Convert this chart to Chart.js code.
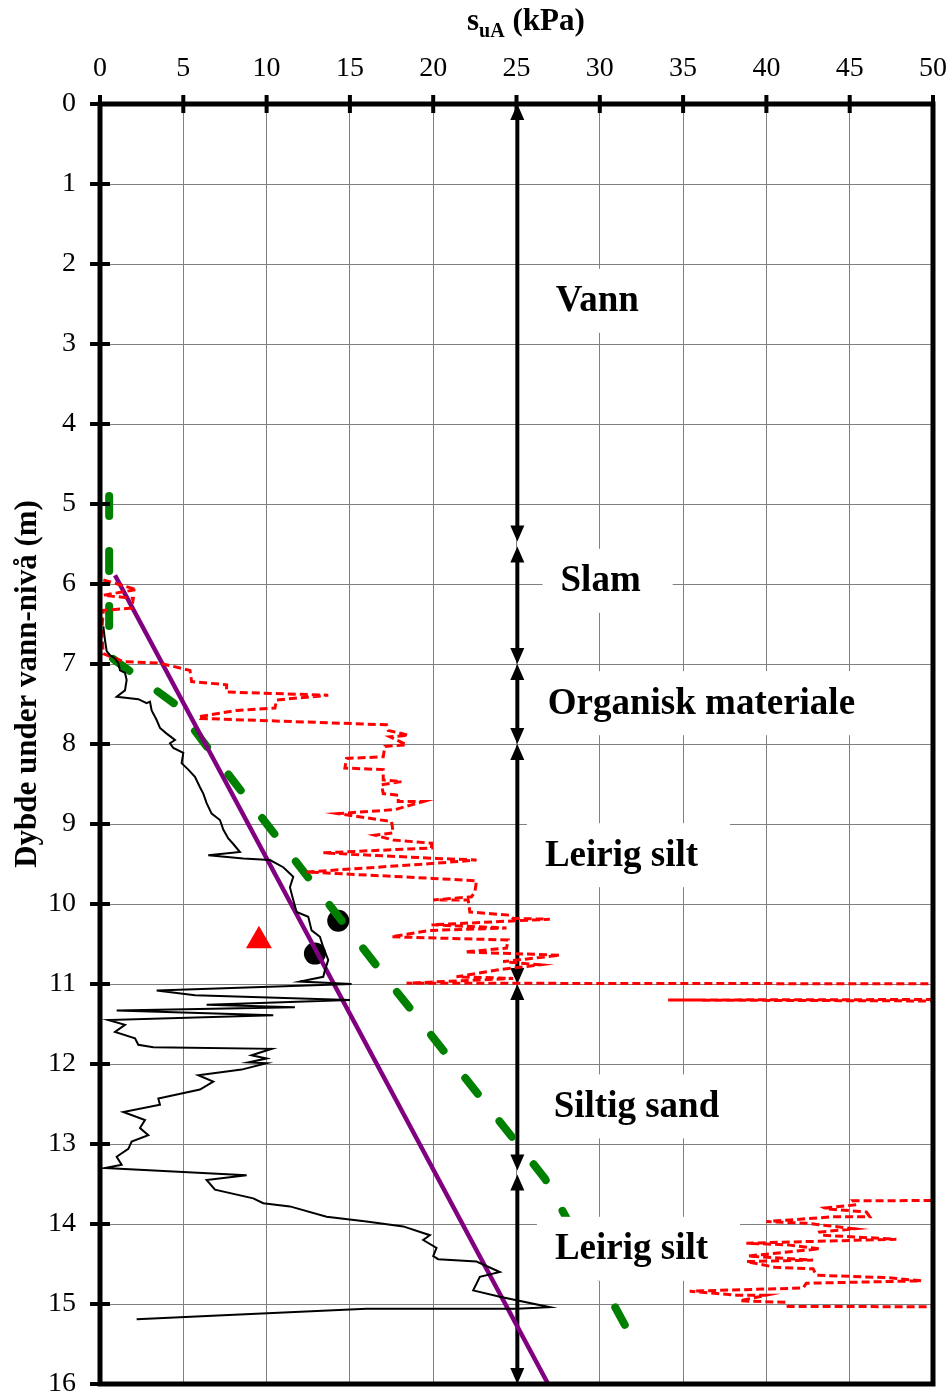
<!DOCTYPE html>
<html>
<head>
<meta charset="utf-8">
<script src="https://cdn.jsdelivr.net/npm/chart.js@4"></script>
<style>
  html, body { margin: 0; padding: 0; background: #fff; }
  canvas { display: block; }
</style>
</head>
<body>
<canvas id="chart" width="952" height="1396"></canvas>
<script>
// ---- Data (su in kPa, depth in m) ----
const blackSu = [0.2,0.3,0.4,0.6,0.9,1.1,1.2,1.5,1.6,1.5,1.0,2.3,2.8,3.0,3.1,3.4,3.6,4.0,4.5,4.2,4.4,5.0,4.9,5.3,5.7,6.0,6.2,6.4,6.7,7.2,7.4,7.7,8.0,8.4,6.5,8.6,10.2,11.0,11.6,11.4,11.6,11.8,12.5,12.7,13.2,13.4,13.7,13.5,13.4,12.0,15.1,3.4,5.7,15.0,6.4,11.7,1.0,10.4,0.5,1.5,0.9,2.1,2.3,3.2,10.3,9.1,10.0,8.9,10.0,8.5,5.9,6.8,6.0,3.5,3.6,1.4,2.7,2.4,2.9,1.9,1.7,1.0,1.3,0.3,8.8,6.4,6.9,9.2,9.8,11.4,13.6,16.0,18.2,19.8,19.4,20.2,20.0,20.3,22.6,24.0,22.8,22.4,24.0,27.0,25.0,16.0,7.4,2.2];
const blackDepth = [6.53,6.7,6.84,6.89,6.93,6.99,7.08,7.11,7.2,7.33,7.41,7.44,7.49,7.47,7.58,7.7,7.8,7.87,7.95,7.99,8.05,8.11,8.24,8.32,8.41,8.54,8.62,8.74,8.87,8.95,9.07,9.18,9.25,9.35,9.39,9.43,9.45,9.54,9.66,9.79,9.95,10.1,10.16,10.33,10.41,10.54,10.7,10.83,10.91,10.97,11.0,11.08,11.14,11.2,11.26,11.29,11.33,11.39,11.45,11.51,11.6,11.68,11.76,11.79,11.81,11.89,11.93,11.98,11.99,12.07,12.14,12.22,12.32,12.43,12.51,12.6,12.7,12.8,12.89,12.97,13.06,13.16,13.26,13.3,13.39,13.45,13.57,13.68,13.74,13.78,13.91,13.97,14.03,14.14,14.2,14.3,14.4,14.44,14.47,14.6,14.66,14.83,14.91,15.04,15.06,15.06,15.14,15.19];

const redSu = [0.2,2.2,0.2,2.0,1.9,0.2,0.1,0.2,1.4,3.6,5.4,5.5,7.6,7.6,13.7,10.6,10.5,8.2,5.9,6.0,17.2,17.3,18.5,17.4,18.4,17.1,17.0,14.8,14.7,17.0,17.0,18.1,16.9,17.0,17.9,17.9,19.4,17.7,14.3,17.5,17.6,16.5,17.6,19.9,19.9,13.4,16.2,20.2,22.6,20.2,12.4,20.0,22.6,22.5,22.3,20.0,22.1,22.2,24.6,24.8,27.0,19.9,24.4,19.8,17.5,24.5,24.4,21.9,27.6,24.2,26.4,24.0,21.4,24.8,18.4,60,60,34.1,60,
  null,
  60,45.2,45.4,43.5,43.6,46.0,46.2,44.0,40.0,42.4,45.3,43.2,43.3,47.8,38.8,41.2,43.2,38.9,42.8,38.8,40.5,42.8,43.0,47.2,49.3,42.4,42.2,35.4,38.2,40.0,38.4,41.2,41.3,60];
const redDepth = [5.95,6.07,6.14,6.18,6.3,6.33,6.6,6.87,6.97,6.99,7.08,7.22,7.26,7.35,7.39,7.45,7.55,7.58,7.66,7.68,7.76,7.83,7.89,7.91,8.01,8.03,8.16,8.18,8.3,8.32,8.45,8.47,8.51,8.62,8.64,8.72,8.72,8.82,8.87,8.97,9.11,9.14,9.2,9.24,9.3,9.36,9.39,9.43,9.45,9.49,9.6,9.68,9.71,9.85,9.91,9.95,9.95,10.1,10.14,10.18,10.19,10.26,10.3,10.33,10.41,10.45,10.55,10.6,10.64,10.72,10.76,10.82,10.91,10.93,10.99,11.0,11.19,11.2,11.22,
  null,
  13.7,13.71,13.76,13.8,13.81,13.85,13.91,13.91,13.97,13.99,14.06,14.1,14.14,14.19,14.24,14.26,14.31,14.4,14.45,14.47,14.54,14.56,14.64,14.67,14.71,14.74,14.8,14.84,14.89,14.89,14.96,14.98,15.03,15.04];

const greenSu = [0.55,0.55,4.5,6.4,17.6,26.7,31.5];
const greenDepth = [4.9,6.9,7.5,8.03,11.04,13.43,15.26];

const purpleSu = [0.9,26.9];
const purpleDepth = [5.89,16.0];

const dotSu = [14.3,12.9];
const dotDepth = [10.21,10.62];

const triSu = [9.54];
const triDepth = [10.46];

const xTicksMax = 50, xStep = 5;
const yTicksMax = 16, yStep = 1;

// layers along the arrow at su = 25
const arrowSu = 25.05;
const arrowFrom = [0, 5.53, 7.0, 8.0, 11.0, 13.38];
const arrowTo = [5.47, 7.0, 8.0, 11.0, 13.33, 16];

const layerNames = ['Vann','Slam','Organisk materiale','Leirig silt','Siltig sand','Leirig silt'];
const layerLabelSu = [29.85, 30.05, 36.1, 31.3, 32.2, 31.9];
const layerLabelDepth = [2.46, 5.96, 7.49, 9.39, 12.53, 14.31];

// ---- helpers ----
const pts = (xs, ys) => xs.map((x, i) => (x === null ? { x: null, y: null } : { x, y: ys[i] }));
const SERIF = '"Liberation Serif", "Times New Roman", serif';

const overlay = {
  id: 'overlay',
  beforeDatasetsDraw(chart) {
    const { ctx, scales: { x, y } } = chart;
    // layer arrows
    ctx.save();
    ctx.strokeStyle = '#000'; ctx.fillStyle = '#000'; ctx.lineWidth = 4;
    const ax = x.getPixelForValue(arrowSu);
    const hw = 7, hl = 16;
    arrowFrom.forEach((d0, i) => {
      const y0 = y.getPixelForValue(d0), y1 = y.getPixelForValue(arrowTo[i]);
      ctx.beginPath(); ctx.moveTo(ax, y0 + hl - 2); ctx.lineTo(ax, y1 - hl + 2); ctx.stroke();
      ctx.beginPath(); ctx.moveTo(ax, y0); ctx.lineTo(ax - hw, y0 + hl); ctx.lineTo(ax + hw, y0 + hl); ctx.closePath(); ctx.fill();
      ctx.beginPath(); ctx.moveTo(ax, y1); ctx.lineTo(ax - hw, y1 - hl); ctx.lineTo(ax + hw, y1 - hl); ctx.closePath(); ctx.fill();
    });
    ctx.restore();
  },
  afterDatasetsDraw(chart) {
    const { ctx, chartArea: a, scales: { x, y } } = chart;
    ctx.save();
    // layer labels with white boxes
    ctx.font = 'bold 37px ' + SERIF;
    ctx.textAlign = 'center'; ctx.textBaseline = 'middle';
    layerNames.forEach((t, i) => {
      const cx = x.getPixelForValue(layerLabelSu[i]), cy = y.getPixelForValue(layerLabelDepth[i]);
      const w = ctx.measureText(t).width;
      ctx.fillStyle = '#fff';
      ctx.fillRect(cx - w / 2 - 18, cy - 32, w + 50, 64);
      ctx.fillStyle = '#000';
      ctx.fillText(t, cx, cy + 1);
    });
    // frame
    ctx.strokeStyle = '#000'; ctx.lineWidth = 5;
    ctx.strokeRect(a.left, a.top, a.right - a.left, a.bottom - a.top);
    // tick marks crossing the axes
    ctx.lineWidth = 4;
    for (let v = 0; v <= xTicksMax; v += xStep) {
      const px = x.getPixelForValue(v);
      ctx.beginPath(); ctx.moveTo(px, a.top - 9); ctx.lineTo(px, a.top + 9); ctx.stroke();
    }
    for (let d = 0; d <= yTicksMax; d += yStep) {
      const py = y.getPixelForValue(d);
      ctx.beginPath(); ctx.moveTo(a.left - 10, py); ctx.lineTo(a.left + 10, py); ctx.stroke();
    }
    // x title with subscript
    ctx.fillStyle = '#000'; ctx.textAlign = 'left'; ctx.textBaseline = 'alphabetic';
    ctx.font = 'bold 31px ' + SERIF;
    let tx = 467;
    ctx.fillText('s', tx, 30); tx += ctx.measureText('s').width;
    ctx.font = 'bold 20px ' + SERIF;
    ctx.fillText('uA', tx, 37); tx += ctx.measureText('uA').width;
    ctx.font = 'bold 31px ' + SERIF;
    ctx.fillText(' (kPa)', tx, 30);
    // y title
    ctx.save();
    ctx.translate(36, 684); ctx.rotate(-Math.PI / 2);
    ctx.textAlign = 'center';
    ctx.font = 'bold 31px ' + SERIF;
    ctx.fillText('Dybde under vann-nivå (m)', 0, 0);
    ctx.restore();
    ctx.restore();
  }
};

const tickFont = { family: SERIF, size: 28 };

new Chart(document.getElementById('chart'), {
  type: 'scatter',
  data: {
    datasets: [
      { data: pts(blackSu, blackDepth), showLine: true, borderColor: '#000', borderWidth: 2, pointRadius: 0, clip: 0 },
      { data: pts(redSu, redDepth), showLine: true, spanGaps: false, borderColor: '#ff0000', borderWidth: 3, borderDash: [8, 4], pointRadius: 0, clip: 0 },
      { data: pts(purpleSu, purpleDepth), showLine: true, borderColor: '#800080', borderWidth: 4.5, pointRadius: 0, clip: 0 },
      { data: pts(greenSu, greenDepth), showLine: true, borderColor: '#008000', borderWidth: 8, borderDash: [20, 35], borderCapStyle: 'round', pointRadius: 0, clip: 0 },
      { data: pts(dotSu, dotDepth), showLine: false, pointStyle: 'circle', pointRadius: 11, backgroundColor: '#000', borderColor: '#000', borderWidth: 0 },
      { data: pts(triSu, triDepth), showLine: false, pointStyle: 'triangle', pointRadius: 15, backgroundColor: '#ff0000', borderColor: '#ff0000', borderWidth: 0 }
    ]
  },
  options: {
    responsive: false,
    animation: false,
    layout: { autoPadding: false, padding: { left: 0, right: 19, top: 0, bottom: 12 } },
    plugins: { legend: { display: false }, tooltip: { enabled: false } },
    scales: {
      x: {
        type: 'linear', position: 'top', min: 0, max: xTicksMax,
        ticks: { stepSize: xStep, font: tickFont, color: '#000', padding: 19, maxRotation: 0 },
        grid: { color: '#808080', lineWidth: 1, drawTicks: false },
        border: { display: false },
        afterFit(s) { s.height = 104; s.paddingLeft = 0; s.paddingRight = 0; }
      },
      y: {
        type: 'linear', reverse: true, min: 0, max: yTicksMax,
        ticks: { stepSize: yStep, font: tickFont, color: '#000', padding: 24 },
        grid: { color: '#808080', lineWidth: 1, drawTicks: false },
        border: { display: false },
        afterFit(s) { s.width = 100; s.paddingTop = 0; s.paddingBottom = 0; }
      }
    }
  },
  plugins: [overlay]
});
</script>
</body>
</html>
